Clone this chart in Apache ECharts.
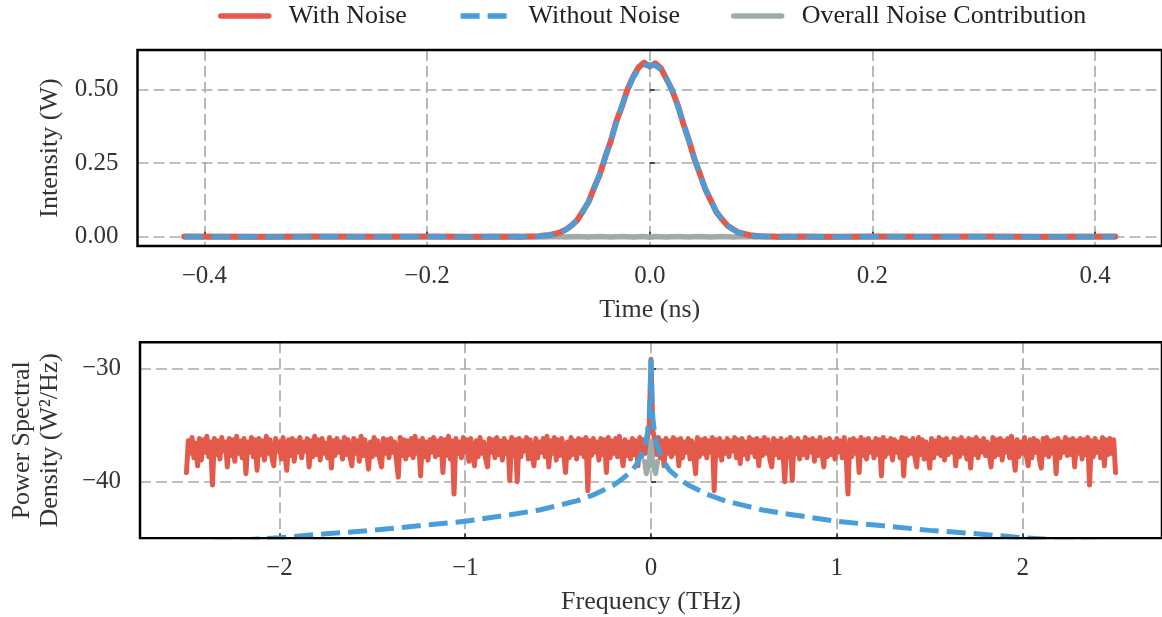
<!DOCTYPE html>
<html><head><meta charset="utf-8">
<script src="https://cdn.jsdelivr.net/npm/echarts@6/dist/echarts.min.js"></script>
<style>html,body{margin:0;padding:0;background:#fff}#chart{width:1162px;height:617px}</style>
</head><body><div id="chart"></div>
<script>
// ---- Time domain (top panel) ----
const timeNs = [-0.418,-0.35,-0.30,-0.25,-0.20,-0.16,-0.14,-0.13,
 -0.120,-0.115,-0.110,-0.105,-0.100,-0.095,-0.090,-0.085,-0.080,-0.075,-0.070,-0.065,-0.060,-0.055,-0.050,-0.045,-0.040,-0.035,-0.030,-0.025,-0.020,-0.015,-0.010,-0.005,
 0.000,
 0.005,0.010,0.015,0.020,0.025,0.030,0.035,0.040,0.045,0.050,0.055,0.060,0.065,0.070,0.075,0.080,0.085,0.090,0.095,0.100,0.105,0.110,0.115,0.120,
 0.13,0.14,0.16,0.20,0.25,0.30,0.35,0.418];
const intensityWithNoise = [0.001,0.000,0.001,0.000,0.001,0.000,0.001,0.000,
 0.001,0.000,0.001,0.001,0.002,0.004,0.006,0.010,0.016,0.025,0.039,0.057,0.087,0.118,0.166,0.210,0.271,0.325,0.392,0.443,0.501,0.543,0.576,0.592,
 0.579,
 0.590,0.573,0.537,0.499,0.449,0.386,0.330,0.266,0.214,0.161,0.122,0.083,0.059,0.037,0.025,0.014,0.010,0.005,0.003,0.002,0.001,0.001,0.000,0.001,
 0.000,0.001,0.000,0.001,0.000,0.001,0.000,0.001];
const intensityWithoutNoise = [0,0,0,0,0,0,0,0,
 0.0001,0.0002,0.0004,0.0008,0.0015,0.003,0.005,0.009,0.015,0.024,0.038,0.058,0.085,0.120,0.163,0.212,0.268,0.327,0.388,0.446,0.497,0.540,0.569,0.581,
 0.585,
 0.581,0.569,0.540,0.497,0.446,0.388,0.327,0.268,0.212,0.163,0.120,0.085,0.058,0.038,0.024,0.015,0.009,0.005,0.003,0.0015,0.0008,0.0004,0.0002,0.0001,
 0,0,0,0,0,0,0,0];
const intensityNoise = [0.000,-0.001,0.000,0.001,0.000,-0.001,0.000,0.001,
 0.000,-0.001,0.000,0.001,0.000,-0.001,0.000,0.001,0.000,-0.001,0.000,0.001,0.000,-0.001,0.000,0.001,0.000,-0.001,0.000,0.001,0.000,-0.001,0.000,0.001,
 -0.002,
 0.001,0.000,-0.001,0.000,0.001,0.000,-0.001,0.000,0.001,0.000,-0.001,0.000,0.001,0.000,-0.001,0.000,0.001,0.000,-0.001,0.000,0.001,0.000,-0.001,0.000,
 0.001,0.000,-0.001,0.000,0.001,0.000,-0.001,0.000];

// ---- Frequency domain (bottom panel) ----
const freqTHz = [
 -2.50,-2.49,-2.48,-2.47,-2.46,-2.45,-2.44,-2.43,-2.42,-2.41,
 -2.40,-2.39,-2.38,-2.37,-2.36,-2.35,-2.34,-2.33,-2.32,-2.31,
 -2.30,-2.29,-2.28,-2.27,-2.26,-2.25,-2.24,-2.23,-2.22,-2.21,
 -2.20,-2.19,-2.18,-2.17,-2.16,-2.15,-2.14,-2.13,-2.12,-2.11,
 -2.10,-2.09,-2.08,-2.07,-2.06,-2.05,-2.04,-2.03,-2.02,-2.01,
 -2.00,-1.99,-1.98,-1.97,-1.96,-1.95,-1.94,-1.93,-1.92,-1.91,
 -1.90,-1.89,-1.88,-1.87,-1.86,-1.85,-1.84,-1.83,-1.82,-1.81,
 -1.80,-1.79,-1.78,-1.77,-1.76,-1.75,-1.74,-1.73,-1.72,-1.71,
 -1.70,-1.69,-1.68,-1.67,-1.66,-1.65,-1.64,-1.63,-1.62,-1.61,
 -1.60,-1.59,-1.58,-1.57,-1.56,-1.55,-1.54,-1.53,-1.52,-1.51,
 -1.50,-1.49,-1.48,-1.47,-1.46,-1.45,-1.44,-1.43,-1.42,-1.41,
 -1.40,-1.39,-1.38,-1.37,-1.36,-1.35,-1.34,-1.33,-1.32,-1.31,
 -1.30,-1.29,-1.28,-1.27,-1.26,-1.25,-1.24,-1.23,-1.22,-1.21,
 -1.20,-1.19,-1.18,-1.17,-1.16,-1.15,-1.14,-1.13,-1.12,-1.11,
 -1.10,-1.09,-1.08,-1.07,-1.06,-1.05,-1.04,-1.03,-1.02,-1.01,
 -1.00,-0.99,-0.98,-0.97,-0.96,-0.95,-0.94,-0.93,-0.92,-0.91,
 -0.90,-0.89,-0.88,-0.87,-0.86,-0.85,-0.84,-0.83,-0.82,-0.81,
 -0.80,-0.79,-0.78,-0.77,-0.76,-0.75,-0.74,-0.73,-0.72,-0.71,
 -0.70,-0.69,-0.68,-0.67,-0.66,-0.65,-0.64,-0.63,-0.62,-0.61,
 -0.60,-0.59,-0.58,-0.57,-0.56,-0.55,-0.54,-0.53,-0.52,-0.51,
 -0.50,-0.49,-0.48,-0.47,-0.46,-0.45,-0.44,-0.43,-0.42,-0.41,
 -0.40,-0.39,-0.38,-0.37,-0.36,-0.35,-0.34,-0.33,-0.32,-0.31,
 -0.30,-0.29,-0.28,-0.27,-0.26,-0.25,-0.24,-0.23,-0.22,-0.21,
 -0.20,-0.19,-0.18,-0.17,-0.16,-0.15,-0.14,-0.13,-0.12,-0.11,
 -0.10,-0.09,-0.08,-0.07,-0.06,-0.05,-0.04,-0.03,-0.02,-0.01,
 0.00,0.01,0.02,0.03,0.04,0.05,0.06,0.07,0.08,0.09,
 0.10,0.11,0.12,0.13,0.14,0.15,0.16,0.17,0.18,0.19,
 0.20,0.21,0.22,0.23,0.24,0.25,0.26,0.27,0.28,0.29,
 0.30,0.31,0.32,0.33,0.34,0.35,0.36,0.37,0.38,0.39,
 0.40,0.41,0.42,0.43,0.44,0.45,0.46,0.47,0.48,0.49,
 0.50,0.51,0.52,0.53,0.54,0.55,0.56,0.57,0.58,0.59,
 0.60,0.61,0.62,0.63,0.64,0.65,0.66,0.67,0.68,0.69,
 0.70,0.71,0.72,0.73,0.74,0.75,0.76,0.77,0.78,0.79,
 0.80,0.81,0.82,0.83,0.84,0.85,0.86,0.87,0.88,0.89,
 0.90,0.91,0.92,0.93,0.94,0.95,0.96,0.97,0.98,0.99,
 1.00,1.01,1.02,1.03,1.04,1.05,1.06,1.07,1.08,1.09,
 1.10,1.11,1.12,1.13,1.14,1.15,1.16,1.17,1.18,1.19,
 1.20,1.21,1.22,1.23,1.24,1.25,1.26,1.27,1.28,1.29,
 1.30,1.31,1.32,1.33,1.34,1.35,1.36,1.37,1.38,1.39,
 1.40,1.41,1.42,1.43,1.44,1.45,1.46,1.47,1.48,1.49,
 1.50,1.51,1.52,1.53,1.54,1.55,1.56,1.57,1.58,1.59,
 1.60,1.61,1.62,1.63,1.64,1.65,1.66,1.67,1.68,1.69,
 1.70,1.71,1.72,1.73,1.74,1.75,1.76,1.77,1.78,1.79,
 1.80,1.81,1.82,1.83,1.84,1.85,1.86,1.87,1.88,1.89,
 1.90,1.91,1.92,1.93,1.94,1.95,1.96,1.97,1.98,1.99,
 2.00,2.01,2.02,2.03,2.04,2.05,2.06,2.07,2.08,2.09,
 2.10,2.11,2.12,2.13,2.14,2.15,2.16,2.17,2.18,2.19,
 2.20,2.21,2.22,2.23,2.24,2.25,2.26,2.27,2.28,2.29,
 2.30,2.31,2.32,2.33,2.34,2.35,2.36,2.37,2.38,2.39,
 2.40,2.41,2.42,2.43,2.44,2.45,2.46,2.47,2.48,2.49,
 2.50];
const psdWithNoise = [
 -39.2,-36.4,-37.5,-36.1,-37.9,-36.6,-38.6,-36.2,-38.1,-36.3,
 -37.4,-36.0,-37.8,-36.5,-40.3,-36.2,-37.6,-36.4,-38.0,-36.1,
 -37.3,-36.5,-38.7,-36.2,-37.7,-36.3,-38.2,-36.0,-37.5,-36.4,
 -37.9,-36.2,-39.3,-36.5,-37.4,-36.1,-37.8,-36.3,-39.0,-36.2,
 -37.6,-36.4,-38.1,-36.0,-37.5,-36.3,-37.9,-38.6,-36.2,-37.3,
 -36.5,-38.0,-36.1,-37.6,-39.0,-36.3,-37.7,-36.2,-38.2,-36.4,
 -37.4,-36.1,-37.9,-36.5,-37.3,-36.2,-38.7,-36.4,-37.8,-36.0,
 -37.6,-36.3,-38.1,-36.2,-37.5,-36.6,-37.9,-36.1,-38.8,-36.4,
 -37.7,-36.2,-37.4,-36.5,-38.0,-36.1,-37.6,-36.3,-37.8,-38.6,
 -36.2,-37.5,-36.4,-38.2,-36.0,-37.7,-36.3,-37.4,-38.9,-36.5,
 -37.8,-36.1,-37.6,-36.4,-38.0,-38.7,-36.2,-37.5,-36.3,-37.9,
 -36.2,-37.4,-36.5,-38.1,-39.6,-36.1,-37.7,-36.3,-38.0,-36.4,
 -37.6,-36.2,-37.9,-36.0,-37.5,-36.4,-39.5,-36.2,-37.8,-36.5,
 -38.1,-36.3,-37.4,-36.1,-37.8,-36.4,-37.6,-36.2,-39.2,-36.3,
 -37.7,-36.0,-38.0,-36.4,-41.1,-36.2,-37.5,-36.5,-37.9,-36.1,
 -37.4,-36.3,-38.2,-36.2,-37.6,-38.6,-36.4,-37.8,-36.1,-37.5,
 -36.5,-38.0,-38.7,-36.2,-37.4,-36.3,-37.9,-36.1,-37.6,-36.4,
 -38.1,-36.2,-37.5,-36.5,-39.9,-36.1,-37.7,-36.3,-40.0,-36.2,
 -37.8,-36.4,-37.3,-36.1,-38.0,-36.3,-37.6,-38.6,-36.2,-37.9,
 -36.5,-37.4,-36.2,-37.8,-36.0,-38.7,-36.4,-37.5,-36.1,-38.1,
 -36.3,-37.7,-36.2,-37.4,-39.2,-36.5,-37.9,-36.1,-37.6,-36.4,
 -38.0,-36.2,-37.5,-36.3,-37.8,-36.1,-40.8,-36.4,-37.7,-36.2,
 -37.4,-36.5,-38.1,-36.2,-37.6,-36.3,-39.2,-36.1,-37.9,-36.4,
 -37.5,-36.2,-37.8,-36.0,-37.4,-38.6,-36.3,-37.7,-36.5,-38.0,
 -36.2,-37.6,-36.4,-38.6,-36.1,-37.8,-36.3,-37.5,-36.2,-35.4,
 -29.2,-35.5,-36.3,-37.6,-36.1,-37.9,-36.4,-38.6,-36.2,-37.5,
 -36.4,-37.8,-36.1,-37.5,-36.3,-38.6,-36.2,-37.9,-36.5,-37.4,
 -36.2,-38.0,-36.4,-37.6,-39.3,-36.1,-37.8,-36.3,-37.5,-36.2,
 -37.9,-36.4,-37.4,-36.1,-40.8,-36.3,-37.7,-36.2,-38.1,-36.5,
 -37.5,-36.2,-37.8,-36.4,-37.3,-36.1,-37.9,-36.3,-38.4,-36.2,
 -37.6,-36.5,-38.0,-36.1,-37.4,-36.3,-37.8,-36.2,-38.6,-36.4,
 -37.7,-36.1,-37.5,-36.3,-38.1,-38.7,-36.2,-37.6,-36.4,-37.9,
 -36.2,-37.4,-40.0,-36.3,-37.8,-36.1,-39.9,-36.4,-37.5,-36.2,
 -38.0,-36.5,-37.6,-36.1,-37.9,-36.3,-37.4,-36.2,-38.2,-36.4,
 -37.7,-36.1,-37.5,-38.7,-36.3,-37.8,-36.2,-37.6,-36.5,-38.0,
 -36.2,-37.4,-36.4,-37.9,-36.1,-37.6,-41.1,-36.3,-37.8,-36.2,
 -37.5,-36.4,-39.2,-36.1,-37.7,-36.3,-38.0,-36.2,-37.4,-36.5,
 -37.9,-36.2,-37.6,-36.3,-39.5,-36.1,-37.8,-36.4,-37.5,-36.2,
 -38.1,-36.3,-37.4,-36.5,-37.9,-36.1,-39.5,-36.2,-37.7,-36.4,
 -37.5,-36.2,-37.8,-38.7,-36.1,-37.6,-36.3,-38.0,-36.5,-37.4,
 -38.8,-36.2,-37.9,-36.4,-37.5,-36.1,-37.7,-36.3,-38.1,-36.2,
 -37.6,-36.5,-37.4,-36.2,-38.6,-36.3,-37.8,-36.1,-37.5,-36.4,
 -38.0,-36.2,-38.8,-36.3,-37.6,-36.1,-37.9,-36.4,-37.4,-36.2,
 -37.7,-36.5,-37.5,-38.7,-36.1,-37.8,-36.3,-37.6,-36.2,-38.1,
 -36.4,-37.4,-36.2,-37.9,-36.0,-37.6,-39.0,-36.3,-37.8,-36.5,
 -37.5,-36.1,-37.7,-38.6,-36.3,-37.9,-36.2,-37.4,-36.4,-38.0,
 -38.8,-36.2,-37.6,-36.1,-37.8,-36.4,-37.5,-36.3,-39.3,-36.2,
 -37.9,-36.5,-37.4,-36.1,-37.7,-36.3,-37.6,-36.2,-38.7,-36.4,
 -37.5,-36.2,-38.0,-36.3,-37.6,-36.1,-40.3,-36.4,-37.8,-36.2,
 -37.4,-36.5,-37.9,-36.1,-38.6,-36.3,-37.6,-36.2,-37.5,-36.3,
 -39.2];
const freqCleanTHz = [-2.5,-2.25,-2.0,-1.75,-1.5,-1.25,-1.0,-0.75,-0.6,-0.5,-0.4,-0.3,-0.2,-0.15,-0.1,-0.075,-0.05,-0.03,-0.02,-0.01,-0.005,
 0,
 0.005,0.01,0.02,0.03,0.05,0.075,0.1,0.15,0.2,0.3,0.4,0.5,0.6,0.75,1.0,1.25,1.5,1.75,2.0,2.25,2.5];
const psdWithoutNoise = [-45.45,-45.2,-44.95,-44.6,-44.3,-43.9,-43.5,-42.9,-42.5,-42.1,-41.7,-41.1,-40.3,-39.7,-39.0,-38.4,-37.6,-36.6,-35.8,-34.4,-32.5,
 -29.3,
 -32.5,-34.4,-35.8,-36.6,-37.6,-38.4,-39.0,-39.7,-40.3,-41.1,-41.7,-42.1,-42.5,-42.9,-43.5,-43.9,-44.3,-44.6,-44.95,-45.2,-45.45];
const freqNoiseTHz = [-0.035,-0.025,-0.012,0,0.012,0.025,0.035];
const psdNoise = [-38.2,-39.3,-38.6,-36.5,-38.6,-39.3,-38.2];

// ---- Tick values ----
const timeTicks = [-0.4,-0.2,0,0.2,0.4];
const intensityTicks = [0,0.25,0.5];
const freqTicks = [-2,-1,0,1,2];
const psdTicks = [-40,-30];

const RED = '#e35a4b', BLUE = '#479ed9', GRAY = '#9eabab';
const FONT = 'Liberation Serif';
const zip = (xs, ys) => xs.map((x, i) => [x, ys[i]]);
const fmt = d => v => (v < 0 ? '\u2212' : '') + Math.abs(v).toFixed(d);

function xAxisCfg(grid, min, max, ticks, dec, name, gap) {
  return {
    gridIndex: grid, type: 'value', min: min, max: max,
    name: name, nameLocation: 'middle', nameGap: gap,
    nameTextStyle: { fontFamily: FONT, fontSize: 26, color: '#333' },
    axisLine: { show: false },
    axisTick: { show: true, inside: true, length: 5, customValues: ticks, lineStyle: { color: '#222', width: 1.5 } },
    axisLabel: { customValues: ticks, formatter: fmt(dec), fontFamily: FONT, fontSize: 25, color: '#333', margin: 18 },
    splitLine: { show: true, lineStyle: { color: '#ababab', width: 1.7, type: [11, 5] } }
  };
}
function yAxisCfg(grid, min, max, ticks, dec, name, gap) {
  return {
    gridIndex: grid, type: 'value', min: min, max: max,
    name: name, nameLocation: 'middle', nameGap: gap,
    nameTextStyle: { fontFamily: FONT, fontSize: 26, color: '#333', lineHeight: 28 },
    axisLine: { show: false },
    axisTick: { show: true, inside: true, length: 5, customValues: ticks, lineStyle: { color: '#222', width: 1.5 } },
    axisLabel: { customValues: ticks, formatter: fmt(dec), fontFamily: FONT, fontSize: 25, color: '#333', margin: 19 },
    splitLine: { show: true, lineStyle: { color: '#ababab', width: 1.7, type: [11, 5] } }
  };
}
function lineSeries(name, xi, data, color, dash, z, cap, width) {
  return {
    name: name, type: 'line', xAxisIndex: xi, yAxisIndex: xi, data: data,
    symbol: 'none', showSymbol: false, clip: true, z: z, animation: false,
    emphasis: { disabled: true },
    lineStyle: { color: color, width: width, type: dash, cap: cap, join: 'round' },
    itemStyle: { color: color }
  };
}

const chart = echarts.init(document.getElementById('chart'), null, { renderer: 'canvas' });
chart.setOption({
  animation: false,
  backgroundColor: '#fff',
  textStyle: { fontFamily: FONT },
  legend: {
    left: 218, top: 3, orient: 'horizontal', padding: 0,
    itemWidth: 48, itemHeight: 6, itemGap: 51,
    itemStyle: { opacity: 0 },
    lineStyle: { width: 5.5 },
    textStyle: { fontFamily: FONT, fontSize: 26, color: '#222', padding: [0, 0, 0, 15] },
    data: ['With Noise', 'Without Noise', 'Overall Noise Contribution']
  },
  // white strip just below the lower frame so lines are clipped exactly at the frame edge
  graphic: [
    { type: 'rect', z: 50, silent: true, shape: { x: 130, y: 539.6, width: 1040, height: 8 }, style: { fill: '#fff' } }
  ],
  grid: [
    { left: 137.5, top: 50, width: 1028, height: 196, show: true, z: 10, borderColor: '#000', borderWidth: 2.5, backgroundColor: 'transparent' },
    { left: 137.5, top: 342.3, width: 1028, height: 196, show: true, z: 10, borderColor: '#000', borderWidth: 2.5, backgroundColor: 'transparent' }
  ],
  xAxis: [
    xAxisCfg(0, -0.46, 0.46, timeTicks, 1, 'Time (ns)', 51),
    xAxisCfg(1, -2.75, 2.75, freqTicks, 0, 'Frequency (THz)', 51)
  ],
  yAxis: [
    yAxisCfg(0, -0.0315, 0.635, intensityTicks, 2, 'Intensity (W)', 73),
    yAxisCfg(1, -45, -27.7, psdTicks, 0, 'Power Spectral\nDensity (W\u00b2/Hz)', 76)
  ],
  series: [
    lineSeries('Overall Noise Contribution', 0, zip(timeNs, intensityNoise), GRAY, 'solid', 1, 'round', 5.5),
    lineSeries('With Noise', 0, zip(timeNs, intensityWithNoise), RED, 'solid', 2, 'round', 6),
    lineSeries('Without Noise', 0, zip(timeNs, intensityWithoutNoise), BLUE, [19, 8], 3, 'butt', 5),
    lineSeries('With Noise', 1, zip(freqTHz, psdWithNoise), RED, 'solid', 2, 'round', 5),
    lineSeries('Overall Noise Contribution', 1, zip(freqNoiseTHz, psdNoise), GRAY, 'solid', 3, 'round', 5),
    lineSeries('Without Noise', 1, zip(freqCleanTHz, psdWithoutNoise), BLUE, [19, 8], 4, 'butt', 5)
  ]
});
</script></body></html>
